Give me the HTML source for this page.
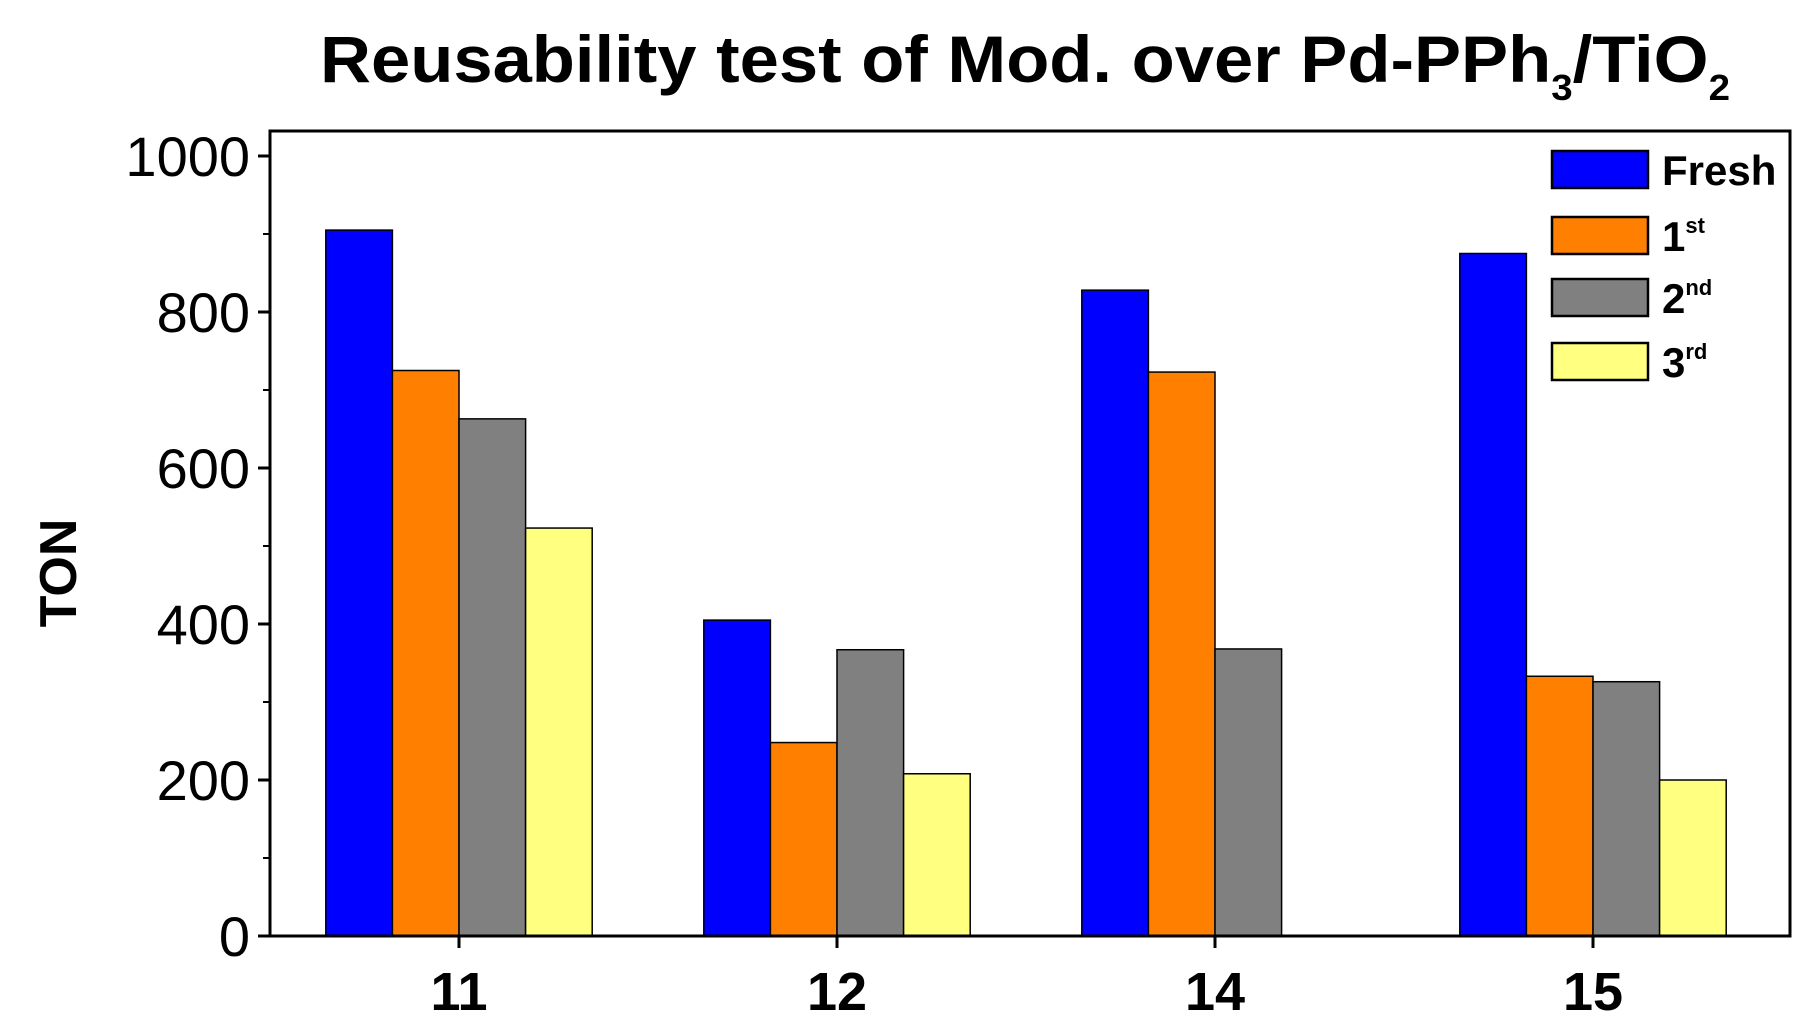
<!DOCTYPE html>
<html><head><meta charset="utf-8"><style>body{margin:0;background:#fff}svg{display:block}</style></head>
<body>
<svg id="chart" width="1807" height="1022" xmlns="http://www.w3.org/2000/svg" font-family="Liberation Sans, sans-serif">
<text x="1025" y="82" text-anchor="middle" font-size="66" font-weight="bold" textLength="1410" lengthAdjust="spacingAndGlyphs">Reusability test of Mod. over Pd-PPh<tspan font-size="36" dy="18">3</tspan><tspan dy="-18">/TiO</tspan><tspan font-size="36" dy="18">2</tspan></text>
<text transform="translate(76,573) rotate(-90)" text-anchor="middle" font-size="52" font-weight="bold">TON</text>
<g id="bars"></g>
<rect x="270" y="131" width="1520" height="805" fill="none" stroke="#000" stroke-width="3"/>
<g id="axes"></g>
<g id="legend"></g>
</svg>
<script>
const categories = ['11','12','14','15'];
const seriesNames = ['Fresh','1st','2nd','3rd'];
const fresh = [905,405,828,875];
const first = [725,248,723,333];
const second = [663,367,368,326];
const third = [523,208,0,200];
const yTicks = [0,200,400,600,800,1000];
const colors = ['#0000ff','#ff7f00','#808080','#ffff80'];
const NS='http://www.w3.org/2000/svg';
const y = v => 936 - v*0.78;
const xc = i => 459 + i*378;
const bw = 66.6;
function mk(t,a,p){const e=document.createElementNS(NS,t);for(const k in a)e.setAttribute(k,a[k]);p.appendChild(e);return e;}
const bars=document.getElementById('bars');
[fresh,first,second,third].forEach((s,si)=>{
  s.forEach((v,ci)=>{
    if(v<=0)return;
    const r=mk('rect',{x:xc(ci)-2*bw+si*bw,y:y(v),width:bw,height:936-y(v),fill:colors[si],stroke:'#000','stroke-width':1.5},bars);
    
    
  });
});
const ax=document.getElementById('axes');
yTicks.forEach(t=>{
  mk('line',{x1:258,x2:270,y1:y(t),y2:y(t),stroke:'#000','stroke-width':3},ax);
  const tx=mk('text',{x:250,y:y(t)+20,'text-anchor':'end','font-size':56},ax);
  tx.textContent=t;
  
  
});
for(let t=100;t<1000;t+=200){mk('line',{x1:263,x2:270,y1:y(t),y2:y(t),stroke:'#000','stroke-width':2},ax);}
categories.forEach((c,i)=>{
  mk('line',{x1:xc(i),x2:xc(i),y1:936,y2:948,stroke:'#000','stroke-width':3},ax);
  const tx=mk('text',{x:xc(i),y:1010,'text-anchor':'middle','font-size':54,'font-weight':'bold'},ax);
  tx.textContent=c;
  
  
});
const lg=document.getElementById('legend');
const sup=['','st','nd','rd'];
seriesNames.forEach((n,i)=>{
  const yy=[151,217,279,343][i];
  const r=mk('rect',{x:1552,y:yy,width:96,height:37,fill:colors[i],stroke:'#000','stroke-width':2.5},lg);
  
  
  const tx=mk('text',{x:1662,y:yy+34,'font-size':42,'font-weight':'bold'},lg);
  
  
  if(i===0){tx.textContent=n;}else{
    tx.textContent=n[0];
    const ts=mk('tspan',{'font-size':22,dy:-18},tx);ts.textContent=sup[i];
  }
});
</script>
</body></html>
